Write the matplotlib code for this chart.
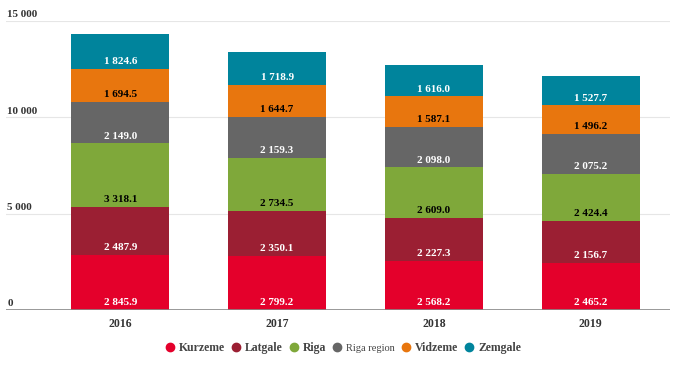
import numpy as np
import matplotlib.pyplot as plt
from matplotlib.lines import Line2D

plt.rcParams['font.family'] = ['Liberation Serif', 'DejaVu Serif']

# データ
years = ['2016', '2017', '2018', '2019']
regions = ['Kurzeme', 'Latgale', 'Riga', 'Riga region', 'Vidzeme', 'Zemgale']
kurzeme = [2845.9, 2799.2, 2568.2, 2465.2]
latgale = [2487.9, 2350.1, 2227.3, 2156.7]
riga = [3318.1, 2734.5, 2609.0, 2424.4]
riga_region = [2149.0, 2159.3, 2098.0, 2075.2]
vidzeme = [1694.5, 1644.7, 1587.1, 1496.2]
zemgale = [1824.6, 1718.9, 1616.0, 1527.7]
y_ticks = [0, 5000, 10000, 15000]

series = [kurzeme, latgale, riga, riga_region, vidzeme, zemgale]
colors = ['#E4002B', '#9B1F33', '#7FA83A', '#666666', '#E8760E', '#00849C']
label_colors = ['white', 'white', 'black', 'white', 'black', 'white']


def fmt(v, nd=1):
    s = '{:,.{}f}'.format(v, nd)
    return s.replace(',', ' ')


fig = plt.figure(figsize=(6.79, 3.65), dpi=100)
# 軸の位置 (ピクセルに合わせる)
ax = fig.add_axes([6 / 679, 1 - 310 / 365, 664 / 679, 289 / 365])

x = np.arange(len(years))
bottom = np.zeros(len(years))
for vals, c, lc in zip(series, colors, label_colors):
    ax.bar(x, vals, 0.625, bottom=bottom, color=c, zorder=3)
    for xi, b, v in zip(x, bottom, vals):
        ax.annotate(fmt(v), (xi, b), xytext=(0, 2), textcoords='offset points',
                    ha='center', va='bottom', color=lc, fontsize=8,
                    fontweight='bold', zorder=4)
    bottom += np.array(vals)

# グリッド線と目盛りラベル
for t in y_ticks:
    if t:
        ax.axhline(t, color='#e6e6e6', lw=0.8, zorder=1)
    ax.text(0.002, t + 80, fmt(t, 0), transform=ax.get_yaxis_transform(),
            ha='left', va='bottom', fontsize=8, fontweight='bold', color='#333333')
ax.axhline(0, color='#888888', lw=1.2, zorder=5)

ax.set_xlim(-0.73, 3.507)
ax.set_ylim(0, 15000)
for s in ax.spines.values():
    s.set_visible(False)
ax.set_yticks([])
ax.set_xticks(x)
ax.set_xticklabels(years, fontsize=8.5, fontweight='bold', color='#333333')
ax.tick_params(axis='x', length=0, pad=6)

handles = [Line2D([], [], marker='o', ls='', color=c, markersize=6) for c in colors]
leg = fig.legend(handles, regions, loc='center', bbox_to_anchor=(0.505, 0.047), ncol=6,
                 frameon=False, handlelength=0.8, handletextpad=0.35, columnspacing=0.55,
                 prop={'size': 8.5, 'weight': 'bold'})
for t in leg.get_texts():
    t.set_color('#444444')
leg.get_texts()[3].set_fontweight('normal')
leg.get_texts()[3].set_fontsize(7.5)

fig.savefig('out.png', dpi=100)
